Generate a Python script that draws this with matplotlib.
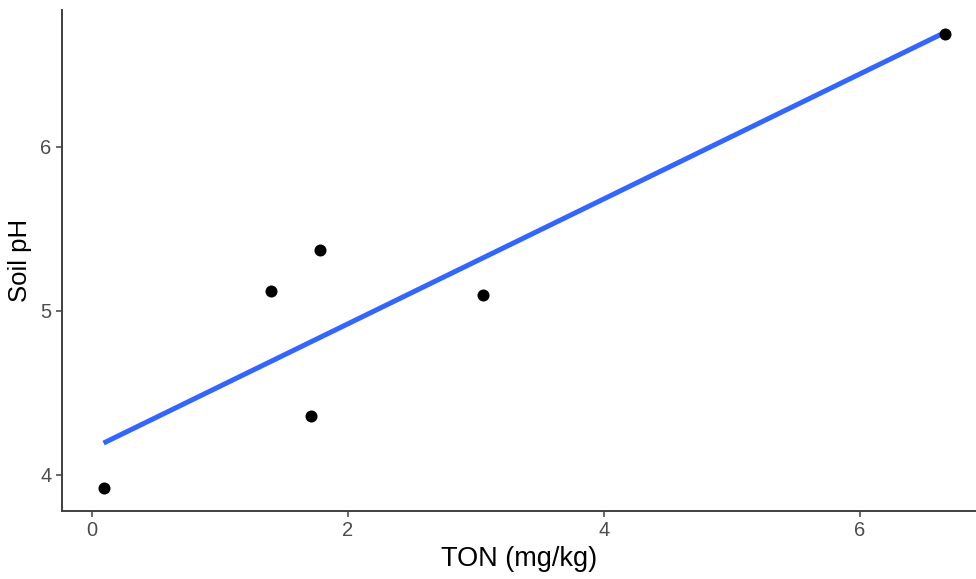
import numpy as np
import matplotlib
matplotlib.use("Agg")
import matplotlib.pyplot as plt

plt.rcParams["font.family"] = ["Liberation Sans", "DejaVu Sans"]

# data
ton = [0.09, 1.40, 1.78, 1.71, 3.06, 6.67]
soil_ph = [3.92, 5.12, 5.37, 4.36, 5.10, 6.69]
x_ticks = [0, 2, 4, 6]
y_ticks = [4, 5, 6]

fig = plt.figure(figsize=(9.76, 5.79), dpi=100)
ax = fig.add_axes([62 / 976, 1 - 511 / 579, 1 - 62 / 976, (511 - 10) / 579])

# linear fit like geom_smooth(method = "lm", se = FALSE)
slope, intercept = np.polyfit(ton, soil_ph, 1)
xs = np.array([min(ton), max(ton)])
ax.plot(xs, intercept + slope * xs, color="#3366FF", lw=3.6, solid_capstyle="butt", zorder=2)
ax.scatter(ton, soil_ph, s=75, color="black", zorder=3, linewidths=0)

ax.set_xlim(-0.235, (976 - 91.5) / 128)
ax.set_ylim(3.78, 6.835)
ax.set_xticks(x_ticks)
ax.set_yticks(y_ticks)
for s in ["top", "right"]:
    ax.spines[s].set_visible(False)
for s in ["left", "bottom"]:
    ax.spines[s].set_color("#404040")
    ax.spines[s].set_linewidth(1.4)
ax.tick_params(colors="#404040", length=4, width=1.1, labelsize=14.5, labelcolor="#4D4D4D")
ax.set_xlabel("TON (mg/kg)", fontsize=19.5, labelpad=4)
ax.set_ylabel("Soil pH", fontsize=18.5, labelpad=6)

fig.savefig("out.png", dpi=100)
